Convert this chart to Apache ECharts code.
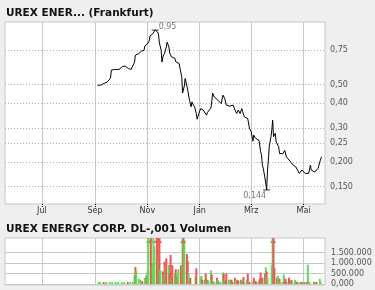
<!DOCTYPE html>
<html><head><meta charset="utf-8">
<script src="https://cdn.jsdelivr.net/npm/echarts@6/dist/echarts.min.js"></script>
<style>html,body{margin:0;padding:0;background:#efefef}#c{width:375px;height:290px}</style>
</head><body><div id="c"></div>
<script>
const FONT = '"DejaVu Sans", Verdana, sans-serif';
const titleMain = 'UREX ENER... (Frankfurt)';
const titleVol = 'UREX ENERGY CORP. DL-,001 Volumen';
const xMin = '2007-05-19', xMax = '2008-05-26';
const monthTicks = ['2007-07-01','2007-09-01','2007-11-01','2008-01-01','2008-03-01','2008-05-01'];
const monthLabels = ['Jul','Sep','Nov','Jan','Mrz','Mai'];
const priceTicks = [0.75,0.5,0.4,0.3,0.25,0.2,0.15];
const priceTickLabels = ['0,75','0,50','0,40','0,30','0,25','0,200','0,150'];
const priceMin = 0.122, priceMax = 1.045;
const volTicks = [0,500000,1000000,1500000];
const volTickLabels = ['0,000','500.000','1.000.000','1.500.000'];
const volMin = -50000, volMax = 2200000;

const priceDates = ['2007-09-04','2007-09-06','2007-09-08','2007-09-10','2007-09-12','2007-09-15','2007-09-17','2007-09-19','2007-09-20','2007-09-22','2007-09-25','2007-09-29',
'2007-10-01','2007-10-03','2007-10-06','2007-10-08','2007-10-10','2007-10-13','2007-10-15','2007-10-17','2007-10-18','2007-10-20','2007-10-22','2007-10-24','2007-10-25','2007-10-27','2007-10-28','2007-10-29','2007-10-31',
'2007-11-01','2007-11-03','2007-11-04','2007-11-06','2007-11-07','2007-11-08','2007-11-10','2007-11-13','2007-11-14','2007-11-15','2007-11-17','2007-11-18','2007-11-19','2007-11-21','2007-11-23','2007-11-24','2007-11-26','2007-11-27','2007-11-29',
'2007-12-01','2007-12-03','2007-12-04','2007-12-06','2007-12-08','2007-12-09','2007-12-10','2007-12-11','2007-12-12','2007-12-14','2007-12-15','2007-12-16','2007-12-18','2007-12-20','2007-12-22','2007-12-23','2007-12-24','2007-12-26','2007-12-28','2007-12-29','2007-12-31',
'2008-01-02','2008-01-05','2008-01-07','2008-01-09','2008-01-10','2008-01-11','2008-01-14','2008-01-15','2008-01-16','2008-01-18','2008-01-19','2008-01-20','2008-01-22','2008-01-24','2008-01-26','2008-01-28','2008-01-30',
'2008-02-01','2008-02-05','2008-02-09','2008-02-11','2008-02-13','2008-02-15','2008-02-17','2008-02-19','2008-02-20','2008-02-22','2008-02-24','2008-02-26','2008-02-28',
'2008-03-01','2008-03-03','2008-03-04','2008-03-06','2008-03-08','2008-03-10','2008-03-12','2008-03-13','2008-03-14','2008-03-15','2008-03-17','2008-03-19','2008-03-20','2008-03-21','2008-03-22','2008-03-24','2008-03-25','2008-03-26','2008-03-27','2008-03-29','2008-03-30','2008-03-31',
'2008-04-02','2008-04-03','2008-04-05','2008-04-07','2008-04-09','2008-04-11','2008-04-13','2008-04-14','2008-04-16','2008-04-19','2008-04-22','2008-04-24','2008-04-26','2008-04-28','2008-04-29',
'2008-05-01','2008-05-03','2008-05-05','2008-05-07','2008-05-09','2008-05-10','2008-05-11','2008-05-14','2008-05-16','2008-05-18','2008-05-20','2008-05-22'];
const priceValues = [0.494,0.502,0.497,0.500,0.508,0.514,0.521,0.539,0.593,0.597,0.597,0.597,
0.607,0.618,0.621,0.614,0.603,0.597,0.600,0.651,0.707,0.716,0.720,0.733,0.742,0.759,0.746,0.787,0.778,
0.806,0.835,0.886,0.870,0.907,0.917,0.950,0.928,0.896,0.815,0.750,0.651,0.691,0.724,0.778,0.825,0.778,0.724,0.693,
0.707,0.681,0.654,0.667,0.641,0.604,0.616,0.548,0.452,0.491,0.537,0.527,0.468,0.416,0.384,0.407,0.396,0.384,0.355,0.332,0.355,
0.376,0.370,0.370,0.348,0.360,0.352,0.378,0.407,0.452,0.431,0.425,0.436,0.416,0.407,0.399,0.441,0.425,
0.392,0.387,0.392,0.370,0.355,0.370,0.355,0.376,0.362,0.341,0.334,0.334,0.297,
0.286,0.256,0.275,0.265,0.270,0.259,0.226,0.217,0.193,0.186,0.166,0.144,0.182,0.205,0.240,0.270,0.292,0.328,0.270,0.281,0.254,0.259,
0.240,0.221,0.226,0.221,0.230,0.213,0.217,0.205,0.201,0.193,0.189,0.182,0.175,0.178,0.182,
0.178,0.175,0.178,0.175,0.193,0.182,0.178,0.178,0.182,0.186,0.201,0.213];

const volDates = ['2007-09-05','2007-09-07','2007-09-11','2007-09-14','2007-09-18','2007-09-21','2007-09-25','2007-09-28',
'2007-10-02','2007-10-05','2007-10-09','2007-10-12','2007-10-15','2007-10-17','2007-10-18','2007-10-19','2007-10-22','2007-10-24','2007-10-26','2007-10-29','2007-10-31',
'2007-11-01','2007-11-02','2007-11-05','2007-11-06','2007-11-07','2007-11-08','2007-11-09','2007-11-12','2007-11-13','2007-11-14','2007-11-15','2007-11-16','2007-11-19','2007-11-20','2007-11-21','2007-11-22','2007-11-23','2007-11-26','2007-11-27','2007-11-28','2007-11-29','2007-11-30',
'2007-12-03','2007-12-04','2007-12-05','2007-12-06','2007-12-07','2007-12-10','2007-12-11','2007-12-12','2007-12-13','2007-12-14','2007-12-17','2007-12-18','2007-12-19','2007-12-20','2007-12-21','2007-12-27','2007-12-28',
'2008-01-02','2008-01-03','2008-01-04','2008-01-07','2008-01-08','2008-01-09','2008-01-10','2008-01-11','2008-01-14','2008-01-15','2008-01-16','2008-01-17','2008-01-18','2008-01-21','2008-01-22','2008-01-23','2008-01-24','2008-01-25','2008-01-28','2008-01-29','2008-01-30','2008-01-31',
'2008-02-01','2008-02-04','2008-02-05','2008-02-06','2008-02-07','2008-02-08','2008-02-11','2008-02-12','2008-02-13','2008-02-14','2008-02-15','2008-02-18','2008-02-19','2008-02-20','2008-02-21','2008-02-22','2008-02-25','2008-02-26','2008-02-27','2008-02-28',
'2008-03-03','2008-03-04','2008-03-05','2008-03-06','2008-03-07','2008-03-10','2008-03-11','2008-03-12','2008-03-13','2008-03-14','2008-03-17','2008-03-18','2008-03-19','2008-03-20','2008-03-25','2008-03-26','2008-03-27','2008-03-28','2008-03-31',
'2008-04-01','2008-04-02','2008-04-03','2008-04-04','2008-04-07','2008-04-08','2008-04-09','2008-04-10','2008-04-11','2008-04-14','2008-04-15','2008-04-16','2008-04-17','2008-04-18','2008-04-21','2008-04-22','2008-04-23','2008-04-24','2008-04-25','2008-04-28','2008-04-29','2008-04-30',
'2008-05-02','2008-05-05','2008-05-06','2008-05-07','2008-05-08','2008-05-13','2008-05-14','2008-05-15','2008-05-16','2008-05-20','2008-05-21'];
const volValues = [15000,15000,15000,15000,15000,15000,15000,15000,
15000,15000,15000,15000,20000,420000,810000,610000,250000,200000,130000,300000,420000,
600000,2600000,2400000,1000000,900000,2500000,1800000,2500000,2400000,1260000,2500000,670000,600000,430000,1070000,800000,1230000,910000,500000,1390000,300000,900000,
500000,700000,500000,350000,700000,900000,600000,2500000,2400000,2100000,1430000,1100000,500000,200000,300000,350000,750000,
350000,380000,200000,200000,500000,200000,200000,150000,650000,450000,150000,50000,100000,300000,200000,100000,50000,100000,550000,500000,200000,150000,
500000,200000,200000,200000,200000,100000,300000,200000,100000,200000,150000,200000,200000,100000,330000,100000,200000,500000,50000,100000,
100000,300000,100000,150000,50000,150000,250000,550000,150000,300000,500000,800000,600000,300000,920000,2600000,2500000,760000,300000,
400000,200000,250000,100000,100000,450000,100000,250000,100000,300000,150000,50000,200000,50000,200000,100000,50000,100000,20000,20000,20000,20000,
20000,20000,920000,20000,20000,20000,20000,20000,50000,250000,20000];
const volDir = ['u','u','d','u','u','u','u','u',
'u','u','d','u','u','u','d','u','u','u','d','u','d',
'u','u','d','d','u','u','u','d','d','u','d','u','d','u','d','u','d','u','d','d','u','d',
'u','d','u','d','u','d','d','u','d','u','d','d','u','u','d','u','d',
'u','u','d','u','d','u','d','u','u','d','u','d','u','d','u','d','u','u','u','d','u','d',
'd','u','u','u','d','d','d','u','u','d','d','d','u','d','d','u','u','d','u','d',
'u','d','u','d','d','u','d','d','u','d','d','u','d','u','u','u','d','d','d',
'u','u','d','u','u','u','d','d','d','d','d','u','d','u','u','u','d','d','u','d','d','u',
'd','d','u','d','u','u','d','u','d','u','u'];

const GREEN = '#58e058', RED = '#ee5656';
const pd = s => echarts.number.parseDate(s).getTime();
const monthTs = monthTicks.map(pd);
const monthLabelFor = v => { for (let i = 0; i < monthTs.length; i++) if (Math.abs(v - monthTs[i]) < 43200000) return monthLabels[i]; return ''; };

const nP = Math.min(priceDates.length, priceValues.length);
const priceData = []; for (let i = 0; i < nP; i++) priceData.push([pd(priceDates[i]), priceValues[i]]);
let maxI = 0, minI = 0;
for (let i = 0; i < nP; i++) { if (priceValues[i] > priceValues[maxI]) maxI = i; if (priceValues[i] < priceValues[minI]) minI = i; }
const fmtDe = v => String(v).replace('.', ',');

const nV = Math.min(volDates.length, volValues.length, volDir.length);
const volData = [], arrowData = [];
for (let i = 0; i < nV; i++) {
  const c = volDir[i] === 'u' ? GREEN : RED;
  volData.push({value: [pd(volDates[i]), volValues[i]], itemStyle: {color: c}});
  if (volValues[i] > volMax) arrowData.push({value: [pd(volDates[i]), volMax], itemStyle: {color: c}});
}

const txt = {fontFamily: FONT, fontSize: 8, color: '#555'};
const xCommon = {type: 'value', min: pd(xMin), max: pd(xMax), scale: true, axisLine: {show: false}};
const chart = echarts.init(document.getElementById('c'), null, {renderer: 'canvas'});
chart.setOption({
  animation: false,
  backgroundColor: '#efefef',
  title: [
    {text: titleMain, left: 6, top: 7, padding: 0, textStyle: {fontFamily: FONT, fontSize: 10.5, fontWeight: 'bold', color: '#111', lineHeight: 12}},
    {text: titleVol, left: 6, top: 223, padding: 0, textStyle: {fontFamily: FONT, fontSize: 10.5, fontWeight: 'bold', color: '#111', lineHeight: 12}}
  ],
  grid: [
    {left: 5, top: 22, width: 320, height: 182, show: true, backgroundColor: '#fff', borderColor: '#c8c8c8', borderWidth: 1},
    {left: 5, top: 238, width: 320, height: 47, show: true, backgroundColor: '#fff', borderColor: '#c8c8c8', borderWidth: 1}
  ],
  xAxis: [
    Object.assign({gridIndex: 0,
     axisTick: {show: true, customValues: monthTs, length: 3, lineStyle: {color: '#000', type: [1, 1]}},
     axisLabel: {customValues: monthTs, formatter: v => monthLabelFor(v), margin: 3, fontFamily: FONT, fontSize: 8, color: '#333', hideOverlap: false},
     splitLine: {show: true, lineStyle: {color: '#c8c8c8', width: 1}}}, xCommon),
    Object.assign({gridIndex: 1,
     axisTick: {show: false, customValues: monthTs},
     axisLabel: {show: false, customValues: monthTs},
     splitLine: {show: true, lineStyle: {color: '#c8c8c8', width: 1}}}, xCommon)
  ],
  yAxis: [
    {type: 'log', gridIndex: 0, position: 'right', min: priceMin, max: priceMax,
     axisLine: {show: false}, axisTick: {show: false}, axisLabel: {show: false}, splitLine: {show: false}},
    {type: 'value', gridIndex: 1, position: 'right', min: volMin, max: volMax,
     axisLine: {show: false},
     axisTick: {show: false, customValues: volTicks},
     axisLabel: Object.assign({customValues: volTicks, margin: 6, formatter: v => { const i = volTicks.indexOf(v); return i >= 0 ? volTickLabels[i] : ''; }}, txt),
     splitLine: {show: true, lineStyle: {color: '#c8c8c8', width: 1}}}
  ],
  series: [
    {type: 'line', xAxisIndex: 0, yAxisIndex: 0, data: priceData, showSymbol: false, symbol: 'none', z: 3,
     lineStyle: {color: '#000', width: 1},
     markLine: {silent: true, z: 1, symbol: ['none', 'none'], animation: false,
       lineStyle: {color: '#b0b0b0', type: [1, 2], width: 1},
       label: Object.assign({show: true, position: 'end', distance: 5, formatter: p => { const i = priceTicks.indexOf(p.value); return i >= 0 ? priceTickLabels[i] : ''; }}, txt),
       emphasis: {disabled: true},
       data: priceTicks.map(v => ({yAxis: v}))}},
    {type: 'scatter', xAxisIndex: 0, yAxisIndex: 0, symbol: 'rect', symbolSize: [7, 1], z: 4, silent: true,
     itemStyle: {color: '#000'},
     label: Object.assign({show: true, formatter: p => fmtDe(p.value[1])}, txt),
     data: [
       {value: [pd(priceDates[maxI]), priceValues[maxI]], label: {position: 'right', distance: 0, offset: [0, -3]}},
       {value: [pd(priceDates[minI]), priceValues[minI]], label: {position: 'left', distance: 0, offset: [3, 6]}}
     ]},
    {type: 'bar', xAxisIndex: 1, yAxisIndex: 1, barWidth: 2, barMinHeight: 2, data: volData, silent: true},
    {type: 'scatter', xAxisIndex: 1, yAxisIndex: 1, symbol: 'triangle', symbolSize: [6, 4], symbolOffset: [0, 3], data: arrowData, silent: true, z: 5}
  ]
});
</script></body></html>
